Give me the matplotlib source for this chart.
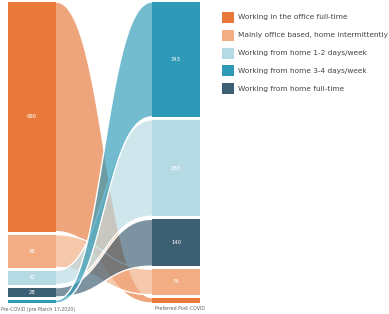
import numpy as np
import matplotlib
matplotlib.use('Agg')
import matplotlib.pyplot as plt
from matplotlib.path import Path
from matplotlib.patches import PathPatch, Rectangle

# categories (legend order) and colours
categories = ['Working in the office full-time',
              'Mainly office based, home intermittently',
              'Working from home 1-2 days/week',
              'Working from home 3-4 days/week',
              'Working from home full-time']
colors = ['#E8793A', '#F2AD84', '#B6DAE4', '#2E9AB7', '#3D5F74']

# respondents per category
pre_covid = [686, 98, 42, 9, 28]
post_covid = [16, 76, 288, 343, 140]

# stacking order of nodes, top to bottom
pre_order = [0, 1, 2, 4, 3]
post_order = [3, 2, 4, 1, 0]

pre_show = [True, True, True, False, True]
post_show = [False, True, True, True, True]

GAP = 9
NODE_W = 1.0


def stack(values, order):
    tops = {}
    y = 0
    for i in order:
        tops[i] = y
        y += values[i] + GAP
    return tops


def bezier(xa, ya, xb, yb, n=60):
    t = np.linspace(0, 1, n)
    xm = (xa + xb) / 2
    x = (1 - t)**3 * xa + 3 * (1 - t)**2 * t * xm + 3 * (1 - t) * t**2 * xm + t**3 * xb
    y = (1 - t)**3 * ya + 3 * (1 - t)**2 * t * ya + 3 * (1 - t) * t**2 * yb + t**3 * yb
    return x, y


pre_top = stack(pre_covid, pre_order)
post_top = stack(post_covid, post_order)
total = sum(pre_covid) + GAP * (len(pre_covid) - 1)

fig = plt.figure(figsize=(3.89, 3.14), dpi=100)
ax = fig.add_axes([8 / 389, 11 / 314, 192 / 389, 301 / 314])
ax.set_xlim(0, 4)
ax.set_ylim(total, 0)
ax.axis('off')

x0, x1 = NODE_W, 4 - NODE_W

# ribbons: each category from its pre node to its post node
for i in [0, 1, 2, 4, 3]:
    a_top = pre_top[i]
    a_bot = a_top + pre_covid[i]
    b_top = post_top[i]
    b_bot = b_top + post_covid[i]
    tx, ty = bezier(x0, a_top, x1, b_top)
    bx, by = bezier(x0, a_bot, x1, b_bot)
    ax.fill(np.r_[tx, bx[::-1]], np.r_[ty, by[::-1]], color=colors[i],
            alpha=0.67, lw=0, zorder=2)
    ax.plot(tx, ty, color='white', lw=1.0, zorder=2)
    ax.plot(bx, by, color='white', lw=1.0, zorder=2)

# nodes
for i in range(len(categories)):
    ax.add_patch(Rectangle((0, pre_top[i]), NODE_W, pre_covid[i],
                           facecolor=colors[i], edgecolor='none', zorder=3))
    ax.add_patch(Rectangle((x1, post_top[i]), NODE_W, post_covid[i],
                           facecolor=colors[i], edgecolor='none', zorder=3))
    if pre_show[i]:
        ax.text(NODE_W / 2, pre_top[i] + pre_covid[i] / 2, str(pre_covid[i]),
                color='white', fontsize=3.8, ha='center', va='center', zorder=4)
    if post_show[i]:
        ax.text(x1 + NODE_W / 2, post_top[i] + post_covid[i] / 2, str(post_covid[i]),
                color='white', fontsize=3.8, ha='center', va='center', zorder=4)

fig.text(1 / 389, 1 - 309 / 314, 'Pre-COVID (pre March 17,2020)',
         fontsize=3.4, color='#666666', ha='left', va='center')
fig.text(180 / 389, 1 - 309 / 314, 'Preferred Post-COVID',
         fontsize=3.4, color='#666666', ha='center', va='center')

# legend
for k, (lab, col) in enumerate(zip(categories, colors)):
    yc = 17.5 + k * 17.8
    fig.add_artist(Rectangle((222 / 389, 1 - (yc + 5.5) / 314), 12 / 389, 11 / 314,
                             facecolor=col, edgecolor='none', transform=fig.transFigure))
    fig.text(238 / 389, 1 - yc / 314, lab, fontsize=5.3, color='#444444',
             ha='left', va='center')

fig.savefig('out.png', dpi=100, facecolor='white')
